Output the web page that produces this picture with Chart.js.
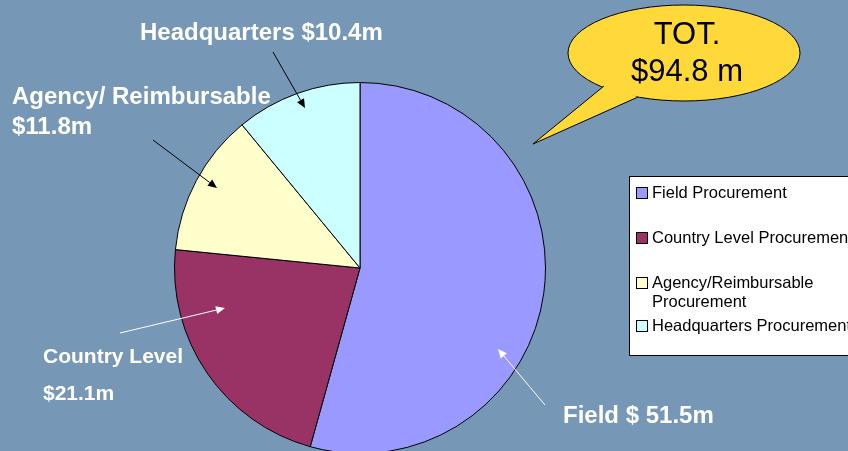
<!DOCTYPE html>
<html>
<head>
<meta charset="utf-8">
<script src="https://cdn.jsdelivr.net/npm/chart.js@4"></script>
<style>
  html, body { margin: 0; padding: 0; overflow: hidden; background: #7698B6; }
  canvas { display: block; }
</style>
</head>
<body>
<canvas id="pieChart" width="848" height="460"></canvas>
<script>
// --- data ---
const categories = ["Field Procurement", "Country Level Procurement", "Agency/Reimbursable Procurement", "Headquarters Procurement"];
const legendLines = [["Field Procurement"], ["Country Level Procurement"], ["Agency/Reimbursable", "Procurement"], ["Headquarters Procurement"]];
const amounts = [51.5, 21.1, 11.8, 10.4];
const sliceColors = ["#9999FF", "#993366", "#FFFFCC", "#CCFFFF"];
const totalText = ["TOT.", "$94.8 m"];

const FONT = "'Liberation Sans', Arial, sans-serif";

function arrow(ctx, x1, y1, x2, y2, color) {
  const a = Math.atan2(y2 - y1, x2 - x1);
  const len = 9, w = 4;
  ctx.save();
  ctx.strokeStyle = color;
  ctx.fillStyle = color;
  ctx.lineWidth = 1;
  ctx.beginPath();
  ctx.moveTo(x1, y1);
  ctx.lineTo(x2 - len * Math.cos(a), y2 - len * Math.sin(a));
  ctx.stroke();
  ctx.beginPath();
  ctx.moveTo(x2, y2);
  ctx.lineTo(x2 - len * Math.cos(a) + w * Math.sin(a), y2 - len * Math.sin(a) - w * Math.cos(a));
  ctx.lineTo(x2 - len * Math.cos(a) - w * Math.sin(a), y2 - len * Math.sin(a) + w * Math.cos(a));
  ctx.closePath();
  ctx.fill();
  ctx.restore();
}

// extras drawn on top: labels, arrows, legend, callout bubble
const extras = {
  id: "extras",
  afterDraw(chart) {
    const ctx = chart.ctx;
    ctx.save();

    // slice labels
    ctx.fillStyle = "#ffffff";
    ctx.textBaseline = "middle";
    ctx.font = "bold 24px " + FONT;
    ctx.fillText("Headquarters $" + amounts[3] + "m", 140, 33);
    ctx.fillText("Agency/ Reimbursable", 12, 97);
    ctx.fillText("$" + amounts[2] + "m", 12, 127);
    ctx.font = "bold 21px " + FONT;
    ctx.fillText("Country Level", 43, 357);
    ctx.fillText("$" + amounts[1] + "m", 43, 394);
    ctx.font = "bold 24px " + FONT;
    ctx.fillText("Field $ " + amounts[0] + "m", 563, 416);

    arrow(ctx, 273, 52, 305, 108, "#000000");
    arrow(ctx, 153, 140, 217, 188, "#000000");
    arrow(ctx, 120, 333, 225, 308, "#ffffff");
    arrow(ctx, 545, 405, 498, 349, "#ffffff");

    // legend box
    ctx.fillStyle = "#ffffff";
    ctx.fillRect(629, 176, 240, 179);
    ctx.strokeStyle = "#000000";
    ctx.lineWidth = 1;
    ctx.strokeRect(629.5, 176.5, 240, 179);
    const rowY = [193, 238, 283, 326];
    ctx.font = "16.5px " + FONT;
    legendLines.forEach((lines, i) => {
      const y = rowY[i];
      ctx.fillStyle = sliceColors[i];
      ctx.fillRect(636, y - 5, 11, 11);
      ctx.strokeStyle = "#000000";
      ctx.strokeRect(636.5, y - 5.5, 11, 11);
      ctx.fillStyle = "#000000";
      lines.forEach((t, j) => ctx.fillText(t, 652, y + j * 19));
    });

    // callout bubble
    ctx.beginPath();
    ctx.ellipse(684, 53, 116, 48, 0, 0, Math.PI * 2);
    ctx.fillStyle = "#FFD93A";
    ctx.fill();
    ctx.strokeStyle = "#000000";
    ctx.stroke();
    ctx.beginPath();
    ctx.moveTo(604, 86);
    ctx.lineTo(533, 144);
    ctx.lineTo(638, 97);
    ctx.fillStyle = "#FFD93A";
    ctx.fill();
    ctx.stroke();
    // cover the ellipse outline where the tail joins
    ctx.beginPath();
    ctx.moveTo(606, 84);
    ctx.lineTo(600, 92);
    ctx.lineTo(636, 96);
    ctx.lineTo(640, 94);
    ctx.closePath();
    ctx.fill();

    ctx.fillStyle = "#000000";
    ctx.textAlign = "center";
    ctx.font = "31px " + FONT;
    ctx.fillText(totalText[0], 687, 35);
    ctx.fillText(totalText[1], 687, 72);

    ctx.restore();
  }
};

new Chart(document.getElementById("pieChart"), {
  type: "pie",
  data: {
    labels: categories,
    datasets: [{
      data: amounts,
      backgroundColor: sliceColors,
      borderColor: "#000000",
      borderWidth: 1
    }]
  },
  options: {
    responsive: false,
    animation: false,
    layout: { padding: { left: 174, right: 302, top: 82, bottom: 6 } },
    plugins: {
      legend: { display: false },
      tooltip: { enabled: false }
    }
  },
  plugins: [extras]
});
</script>
</body>
</html>
